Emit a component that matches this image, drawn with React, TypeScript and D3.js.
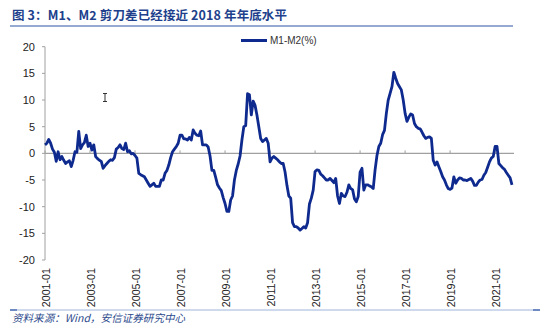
import React from "react";
import * as d3 from "d3";

const titleText = "图 3：M1、M2 剪刀差已经接近 2018 年年底水平";
const sourceText = "资料来源：Wind，安信证券研究中心";
const seriesName = "M1-M2(%)";
const startYear = 2001;
const yTicks = [20, 15, 10, 5, 0, -5, -10, -15, -20];
const xTickLabels = [
  "2001-01", "2003-01", "2005-01", "2007-01", "2009-01", "2011-01",
  "2013-01", "2015-01", "2017-01", "2019-01", "2021-01",
];

// monthly M1-M2 spread (%), 2001-01 .. 2021-10
const spread = [
  1.6, 1.9, 2.6, 1.9, 0.8, 0.2, -1.5, 0.3, -1.2, -0.6, -1.3, -1.9, // 2001
  -1.6, -1.4, -2.5, -1.3, 0.3, 0.2, 4.1, 0.9, 1.6, 2.0, 3.4, 1.3, // 2002
  1.9, 0.6, 1.6, -0.6, -1.0, -1.3, -1.5, -2.8, -2.3, -1.9, -1.5, -1.2, // 2003
  -1.3, -0.8, 0.8, 1.1, 1.6, 0.9, 0.7, 1.9, 0.3, 0.5, -0.1, 0.0, // 2004
  -0.4, -0.9, -3.75, -4.0, -4.2, -4.4, -5.0, -5.6, -6.2, -5.9, -5.6, -6.2, // 2005
  -6.2, -6.2, -5.0, -5.0, -3.75, -3.2, -2.2, -0.8, 0.3, 0.8, 1.25, 1.9, // 2006
  3.4, 3.4, 2.7, 2.7, 2.5, 3.0, 2.5, 4.4, 3.75, 3.4, 3.3, 4.2, // 2007
  1.6, 1.6, 1.6, 1.2, -0.5, -3.2, -3.2, -4.5, -5.9, -6.5, -7.0, -8.3, // 2008
  -9.4, -10.9, -10.9, -8.75, -8.0, -5.0, -3.2, -2.0, -0.5, 2.5, 5.0, 5.2, // 2009
  11.2, 11.0, 7.2, 9.8, 9.0, 7.2, 5.0, 2.8, 2.2, 2.5, 2.8, 1.9, // 2010
  -1.6, -0.9, -0.6, -0.9, -1.2, -1.6, -1.9, -1.9, -3.5, -6.0, -8.0, -8.4, // 2011
  -13.0, -13.75, -13.75, -14.0, -14.4, -14.1, -13.75, -14.0, -13.0, -9.5, -8.4, -6.9, // 2012
  -3.4, -3.1, -3.2, -3.9, -4.2, -4.6, -5.0, -5.0, -4.7, -5.1, -5.5, -4.7, // 2013
  -8.0, -9.4, -7.5, -8.0, -8.1, -7.3, -5.9, -6.6, -6.8, -8.5, -9.1, -8.1, // 2014
  -3.5, -2.8, -6.9, -5.9, -5.9, -6.1, -6.25, -6.6, -3.1, -0.4, 1.3, 1.9, // 2015
  3.5, 4.3, 7.5, 10.0, 11.25, 12.5, 15.2, 14.1, 13.1, 12.5, 11.9, 10.0, // 2016
  7.5, 6.0, 6.8, 7.4, 7.2, 5.6, 5.0, 4.7, 4.6, 4.0, 3.3, 2.8, // 2017
  3.0, 3.1, 2.8, -1.3, -2.2, -1.6, -2.5, -3.4, -4.4, -5.0, -5.9, -6.6, // 2018
  -6.75, -6.5, -4.4, -5.6, -5.0, -4.6, -4.7, -5.0, -5.0, -5.1, -4.9, -4.7, // 2019
  -5.2, -6.0, -6.0, -5.4, -5.0, -4.9, -4.1, -3.6, -2.6, -1.6, -0.9, -0.6, // 2020
  1.3, 1.3, -1.9, -2.3, -2.7, -3.0, -3.6, -4.1, -4.6, -5.9, // 2021
];

const W = 550;
const H = 331;

export default function App() {
  const x = d3.scaleLinear().domain([0, spread.length - 1]).range([45, 512]);
  const y = d3.scaleLinear().domain([-20, 20]).range([260, 46.7]);
  const linePath = d3
    .line<number>()
    .x((_, i) => x(i))
    .y((d) => y(d))(spread) as string;

  const tickIndex = (lbl: string) => {
    const [yy, mm] = lbl.split("-").map(Number);
    return (yy - startYear) * 12 + (mm - 1);
  };

  const axisColor = "#a0a0a0";
  const lineColor = "#0f2a8e";

  return (
    <svg
      width={W}
      height={H}
      style={{ position: "absolute", left: 0, top: 0, background: "#fff" }}
      fontFamily="'Liberation Sans', Arial, sans-serif"
    >
      {/* title */}
      <text
        x={12}
        y={20}
        fontSize={12.5}
        fontWeight="bold"
        fill="#203f8c"
        fontFamily="'Noto Sans CJK SC', 'Liberation Sans', sans-serif"
        textLength={275}
        lengthAdjust="spacing"
      >
        {titleText}
      </text>
      <line x1={10} x2={513} y1={26} y2={26} stroke="#2f55a4" strokeWidth={1.2} />

      {/* legend */}
      <line x1={241} x2={267} y1={40.5} y2={40.5} stroke={lineColor} strokeWidth={3} />
      <text x={270} y={44} fontSize={10} fill="#333">
        {seriesName}
      </text>

      {/* y axis */}
      <line x1={45} x2={45} y1={y(20)} y2={y(-20)} stroke={axisColor} strokeWidth={1} />
      {yTicks.map((t) => (
        <g key={t}>
          <line x1={42} x2={45} y1={y(t)} y2={y(t)} stroke={axisColor} strokeWidth={1} />
          <text
            x={35}
            y={y(t)}
            dy="0.35em"
            textAnchor="end"
            fontSize={11}
            fill="#222"
          >
            {t}
          </text>
        </g>
      ))}

      {/* x axis at zero */}
      <line x1={45} x2={514} y1={y(0)} y2={y(0)} stroke={axisColor} strokeWidth={1.2} />
      {xTickLabels.map((lbl) => {
        const xi = x(tickIndex(lbl));
        return (
          <g key={lbl}>
            <line x1={xi} x2={xi} y1={y(0)} y2={y(0) - 3} stroke={axisColor} strokeWidth={1} />
            <text
              transform={`translate(${xi + 1},268) rotate(-90)`}
              textAnchor="end"
              dy="0.35em"
              fontSize={10.7}
              fill="#222"
            >
              {lbl}
            </text>
          </g>
        );
      })}

      {/* series */}
      <path d={linePath} fill="none" stroke={lineColor} strokeWidth={2.8} strokeLinejoin="round" />

      {/* cursor artifact */}
      <path
        d="M103,93.5 h4 M105,93.5 v8 M103,101.5 h4"
        stroke="#333"
        strokeWidth={1}
        fill="none"
      />

      {/* footer */}
      <line x1={10} x2={540} y1={310} y2={310} stroke="#9fb4de" strokeWidth={1} />
      <line x1={10} x2={17} y1={310} y2={310} stroke="#2f55a4" strokeWidth={1.2} />
      <line x1={533} x2={540} y1={310} y2={310} stroke="#2f55a4" strokeWidth={1.2} />
      <text
        x={12}
        y={322}
        fontSize={10.5}
        fontStyle="italic"
        fill="#2c4a8c"
        fontFamily="'Noto Sans CJK SC', 'Liberation Sans', sans-serif"
        textLength={173}
        lengthAdjust="spacing"
      >
        {sourceText}
      </text>
    </svg>
  );
}
